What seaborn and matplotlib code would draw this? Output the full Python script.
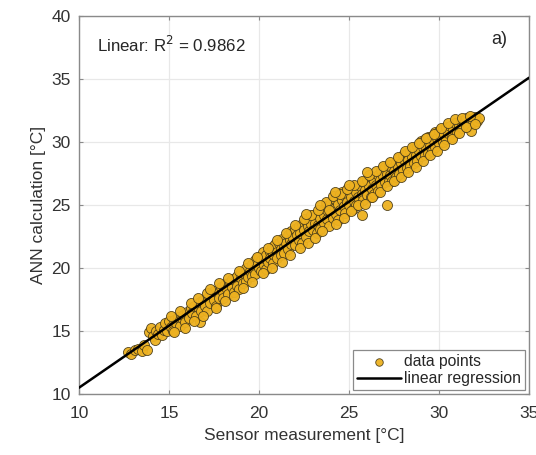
import numpy as np
import pandas as pd
import matplotlib
matplotlib.use("Agg")
import matplotlib.pyplot as plt
import seaborn as sns

# ---- data ----
sensor = [
    12.7, 12.9, 13.1, 13.3, 13.5, 13.6, 13.8, 13.9, 14.0, 14.1, 14.2, 14.3, 14.4, 14.5,
    14.6, 14.7, 14.8, 14.9, 15.0, 15.1, 15.2, 15.3, 15.4, 15.5, 15.6, 15.7, 15.8, 15.9, 16.0,
    16.1, 16.2, 16.3, 16.4, 16.5, 16.6, 16.7, 16.7, 16.8, 16.9, 17.0, 17.1, 17.2,
    17.3, 17.4, 17.5, 17.5, 17.6, 17.7, 17.8, 17.9, 18.0, 18.0, 18.1, 18.2, 18.3, 18.4,
    18.5, 18.5, 18.6, 18.7, 18.8, 18.8, 18.9, 19.0, 19.0, 19.1, 19.2, 19.3, 19.3, 19.4,
    19.5, 19.6, 19.6, 19.7, 19.8, 19.8, 19.9, 20.0, 20.0, 20.1, 20.1, 20.2, 20.3, 20.3, 20.4, 20.4,
    20.5, 20.6, 20.6, 20.7, 20.8, 20.8, 20.9, 21.0, 21.0, 21.1, 21.2, 21.2, 21.3, 21.4, 21.4,
    21.5, 21.6, 21.6, 21.7, 21.8, 21.8, 21.9, 22.0, 22.0, 22.1, 22.2, 22.2, 22.3, 22.4, 22.4,
    22.5, 22.6, 22.6, 22.7, 22.8, 22.8, 22.9, 23.0, 23.0, 23.1, 23.2, 23.2, 23.3, 23.4, 23.4,
    23.5, 23.6, 23.6, 23.7, 23.8, 23.8, 23.9, 24.0, 24.0, 24.1, 24.2, 24.2, 24.3, 24.4, 24.4,
    24.5, 24.6, 24.6, 24.7, 24.8, 24.8, 24.9, 25.0, 25.0, 25.1, 25.2, 25.2, 25.3, 25.4, 25.4,
    25.5, 25.6, 25.7, 25.7, 25.8, 25.8, 25.9, 26.0, 26.0, 26.1, 26.2, 26.2, 26.3, 26.4, 26.4,
    26.5, 26.6, 26.6, 26.7, 26.8, 26.8, 26.9, 27.0, 27.0, 27.1, 27.1, 27.2, 27.2, 27.3, 27.4, 27.4,
    27.5, 27.6, 27.6, 27.7, 27.8, 27.8, 27.9, 28.0, 28.0, 28.1, 28.2, 28.2, 28.3, 28.4, 28.4,
    28.5, 28.6, 28.6, 28.7, 28.8, 28.8, 28.9, 29.0, 29.0, 29.1, 29.2, 29.2, 29.3, 29.4, 29.4,
    29.5, 29.6, 29.6, 29.7, 29.8, 29.8, 29.9, 30.0, 30.0, 30.1, 30.2, 30.2, 30.3, 30.4, 30.4,
    30.5, 30.6, 30.7, 30.8, 30.9, 31.0, 31.1, 31.2, 31.3, 31.4, 31.5, 31.6, 31.7, 31.8, 31.9,
    32.0, 32.1, 32.2,
    15.1, 15.3, 15.6, 15.9, 16.2, 16.4, 16.6, 16.9, 17.1,
    17.3, 17.6, 17.8, 18.1, 18.3, 18.6, 18.9, 19.1, 19.4, 19.6, 19.9,
    20.2, 20.5, 20.7, 21.0, 21.3, 21.5, 21.7, 22.0, 22.3, 22.5, 22.7, 22.9,
    23.1, 23.3, 23.5, 23.7, 23.9, 24.1, 24.3, 24.5, 24.7, 24.9, 25.1, 25.3, 25.5, 25.7, 25.9,
    26.1, 26.3, 26.5, 26.7, 26.9, 27.1, 27.3, 27.5, 27.7, 27.9, 28.1, 28.3, 28.5, 28.7, 28.9,
    29.1, 29.3, 29.5, 29.7, 29.9, 30.1, 30.3, 30.5, 30.7, 30.9, 31.1, 31.3, 31.5, 31.7, 32.0,
    22.6, 23.4, 24.2, 25.0, 26.0,
]
ann = [
    13.3, 13.2, 13.5, 13.6, 13.4, 13.9, 13.5, 14.9, 15.2, 14.6, 14.3, 15.0, 14.8, 15.3,
    14.7, 15.1, 15.6, 15.0, 15.8, 15.3, 15.0, 15.9, 15.6, 16.1, 15.4, 16.0, 16.3, 15.7, 16.5,
    16.0, 16.8, 16.4, 17.0, 16.2, 16.9, 15.7, 17.3, 16.6, 17.5, 17.0, 16.6, 17.8,
    17.2, 17.9, 17.5, 18.2, 17.0, 18.0, 17.6, 18.5, 18.1, 17.6, 18.7, 18.3, 17.9, 18.9,
    18.5, 19.1, 18.1, 19.0, 18.6, 19.4, 18.3, 19.2, 19.7, 18.8, 19.5, 19.0, 20.0, 19.3,
    19.8, 19.4, 20.3, 19.9, 20.6, 19.5, 20.2, 20.9, 20.0, 19.8, 20.6, 21.3, 20.2, 20.8, 21.0, 19.9,
    20.5, 21.3, 20.8, 21.7, 20.4, 21.1, 21.9, 21.3, 20.8, 22.0, 21.5, 21.0, 22.3, 21.7, 21.2,
    22.0, 22.6, 21.5, 22.2, 22.9, 21.9, 22.4, 23.1, 21.8, 22.6, 23.3, 22.2, 22.8, 23.5, 22.0,
    23.0, 23.7, 22.5, 23.3, 24.0, 22.9, 23.5, 24.2, 23.0, 23.6, 22.8, 24.3, 23.4, 24.0, 23.1,
    24.5, 23.6, 24.2, 24.9, 23.9, 24.6, 23.3, 24.4, 25.2, 24.0, 24.8, 25.5, 24.3, 25.1, 23.8,
    24.6, 25.4, 26.0, 24.9, 25.7, 24.4, 25.2, 26.2, 25.0, 25.6, 24.7, 26.4, 25.3, 26.0, 25.0,
    25.6, 26.5, 24.2, 25.9, 26.8, 25.4, 26.2, 27.0, 25.8, 26.5, 25.6, 27.2, 26.3, 26.9, 25.9,
    26.6, 27.4, 26.1, 27.0, 27.8, 26.6, 27.3, 28.0, 26.8, 25.0, 27.5, 26.9, 28.2, 27.4, 27.9, 26.9,
    27.7, 28.4, 27.2, 28.0, 28.7, 27.5, 28.3, 29.0, 27.8, 28.5, 27.9, 29.1, 28.6, 29.3, 28.1,
    28.8, 29.5, 28.3, 29.0, 29.7, 28.5, 29.3, 30.1, 28.9, 29.6, 29.0, 30.2, 29.5, 30.4, 29.1,
    29.7, 30.5, 29.3, 30.1, 30.8, 29.6, 30.3, 30.9, 29.9, 30.5, 30.0, 31.0, 30.6, 31.2, 30.2,
    30.7, 31.3, 30.4, 31.0, 31.5, 30.8, 31.3, 31.7, 31.1, 31.6, 31.9, 31.3, 31.8, 30.9, 31.6,
    32.0, 31.7, 31.9,
    16.2, 14.9, 16.6, 15.2, 17.2, 15.8, 17.6, 16.2, 18.0,
    18.3, 16.8, 18.8, 17.4, 19.2, 17.8, 19.8, 18.4, 20.4, 18.9, 20.9,
    19.6, 21.6, 20.0, 22.2, 20.5, 22.8, 21.0, 23.4, 21.6, 23.9, 22.0, 24.2,
    22.4, 24.6, 22.9, 25.2, 24.6, 25.7, 23.5, 25.9, 24.0, 26.3, 24.5, 26.6, 25.0, 26.9, 25.1,
    27.4, 25.6, 27.7, 26.0, 28.1, 26.5, 28.4, 26.9, 28.8, 27.2, 29.3, 27.6, 29.6, 28.0, 29.9,
    28.5, 30.3, 29.0, 30.6, 29.3, 31.1, 29.8, 31.5, 30.2, 31.8, 30.7, 31.9, 31.2, 32.1, 31.4,
    24.3, 25.0, 26.0, 26.6, 27.6,
]
reg_slope = 0.984
reg_intercept = 0.66
reg_x = [10, 35]
r2_text = "Linear: R$^2$ = 0.9862"
panel_label = "a)"
x_ticks = [10, 15, 20, 25, 30, 35]
y_ticks = [10, 15, 20, 25, 30, 35, 40]

df = pd.DataFrame({"sensor": sensor, "ann": ann})
reg_df = pd.DataFrame({"x": reg_x, "y": [reg_slope * v + reg_intercept for v in reg_x]})

sns.set_theme(style="whitegrid")
plt.rcParams["font.family"] = ["Liberation Sans", "DejaVu Sans"]

fig = plt.figure(figsize=(5.36, 4.55), dpi=100)
ax = fig.add_axes([79 / 536, 1 - 394 / 455, 450 / 536, 378 / 455])

sns.scatterplot(data=df, x="sensor", y="ann", ax=ax, color="#EDB120",
                edgecolor="#4a3d1a", linewidth=0.6, s=52, alpha=0.95,
                label="data points", zorder=3)
sns.lineplot(data=reg_df, x="x", y="y", ax=ax, color="black", linewidth=1.8,
             label="linear regression", zorder=4)

ax.set_xlim(10, 35)
ax.set_ylim(10, 40)
ax.set_xticks(x_ticks)
ax.set_yticks(y_ticks)
ax.grid(True, color="#e8e8e8", linewidth=0.9)
for sp in ax.spines.values():
    sp.set_color("#8a8a8a")
    sp.set_linewidth(1.0)
ax.tick_params(axis="both", labelsize=12.5, colors="#8a8a8a", labelcolor="#333333",
               direction="in", length=3, width=0.8, top=True, right=True,
               bottom=True, left=True)
ax.tick_params(axis="x", pad=9)
ax.tick_params(axis="y", pad=6)
ax.set_xlabel("Sensor measurement [°C]", fontsize=12.5, color="#333333", labelpad=5)
ax.set_ylabel("ANN calculation [°C]", fontsize=12.5, color="#333333", labelpad=4)

ax.text(11.0, 37.7, r2_text, fontsize=12.2, color="#262626", va="center", ha="left")
ax.text(33.8, 38.1, panel_label, fontsize=13, color="#262626", va="center", ha="right")

leg = ax.legend(loc="lower right", fontsize=11.3, frameon=True, fancybox=False,
                edgecolor="#8a8a8a", framealpha=1, borderpad=0.25, labelspacing=0.15,
                handlelength=2.8, handletextpad=0.2, borderaxespad=0.25, markerscale=0.75)
leg.get_frame().set_linewidth(0.9)
for t in leg.get_texts():
    t.set_color("#262626")

fig.savefig("out.png", dpi=100)
